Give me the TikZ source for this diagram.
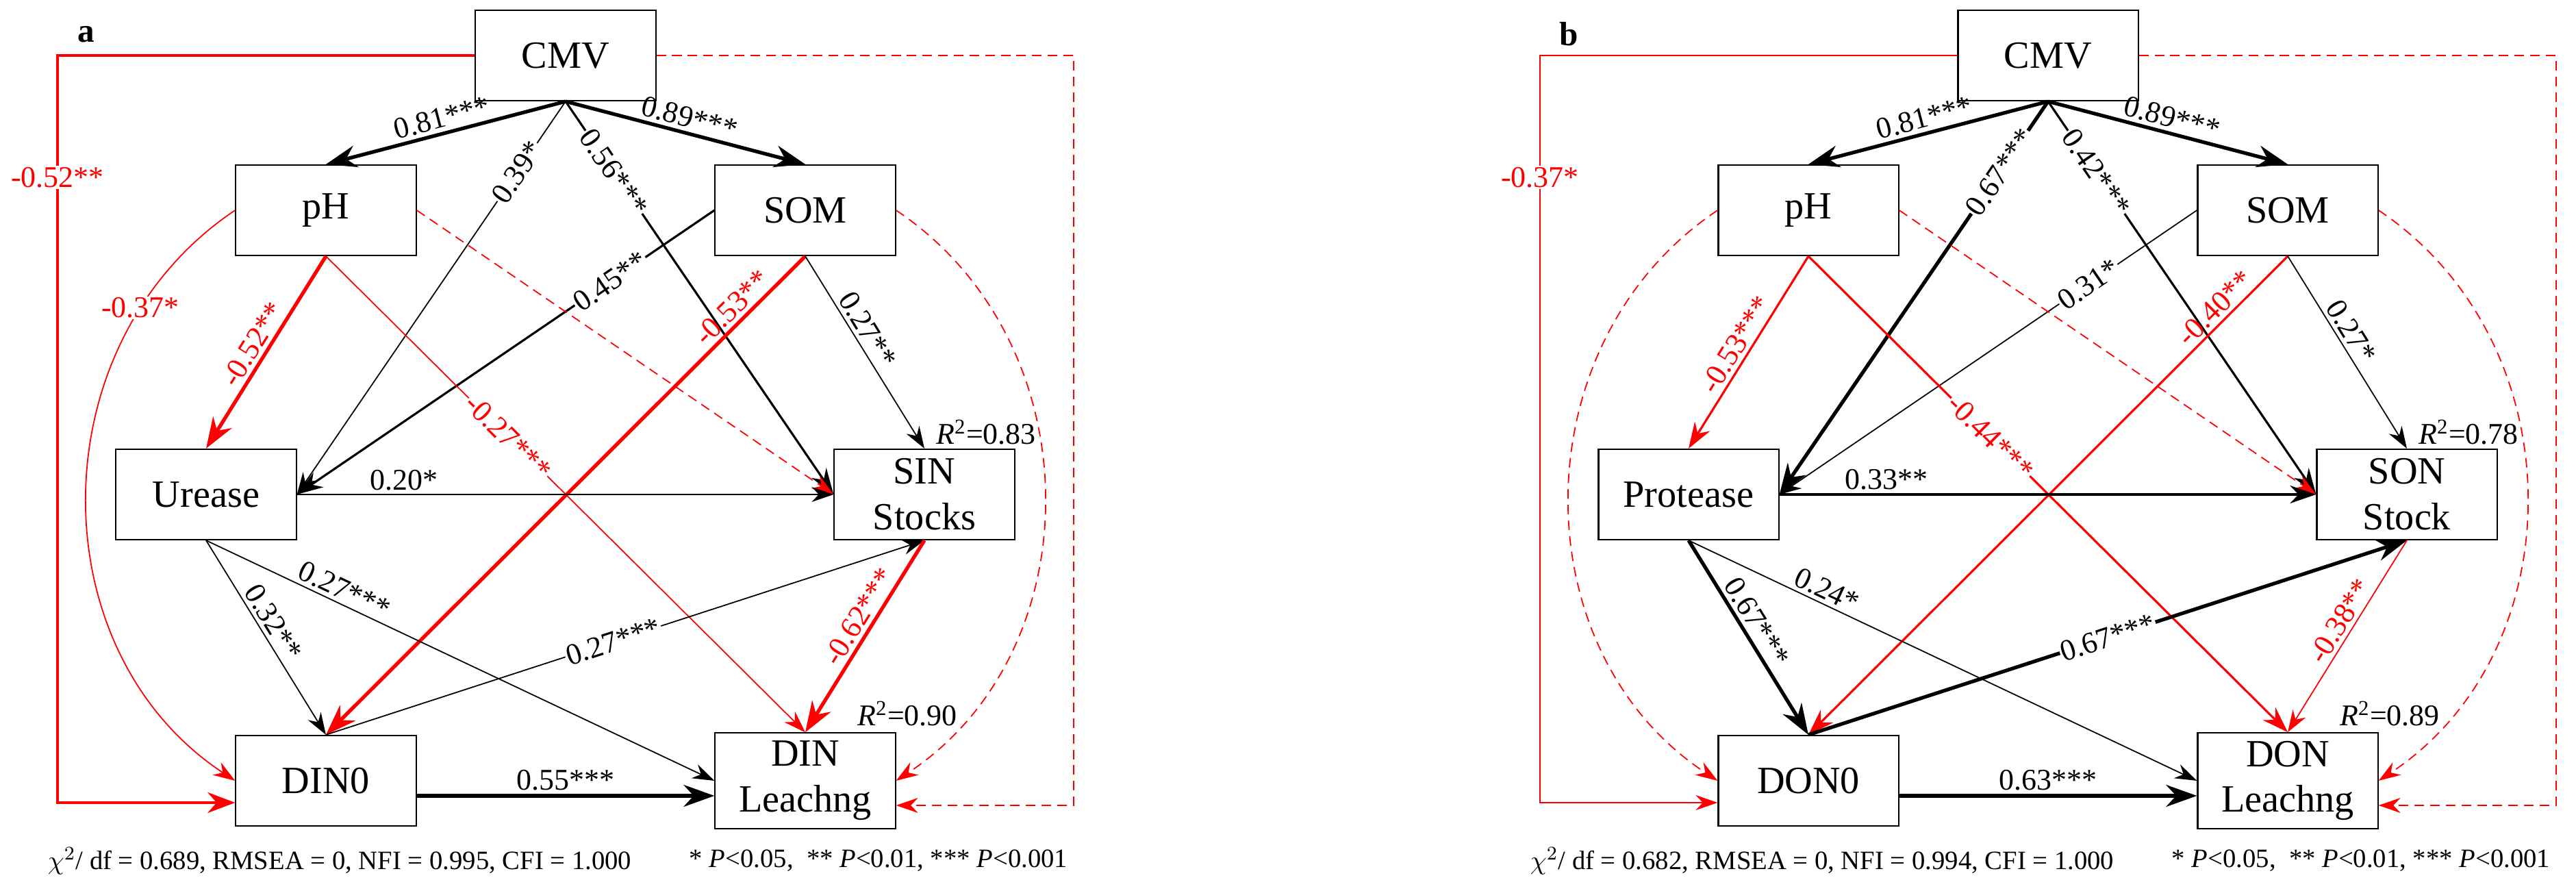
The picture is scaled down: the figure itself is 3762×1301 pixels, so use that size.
\documentclass[tikz,border=0pt]{standalone}
\usepackage{fontspec}
\setmainfont{Liberation Serif}
\usetikzlibrary{calc}
\usetikzlibrary{arrows.meta}

\tikzset{
    box/.style={draw, line width=0.6pt, minimum width=2.63cm, minimum height=1.32cm, font=\fontsize{16}{19}\selectfont, align=center},
    lab/.style={font=\fontsize{12.5}{14}\selectfont, sloped, inner sep=1.5pt},
    onl/.style={lab, fill=white, inner sep=0.5pt},
    thk/.style={line width=1.5pt, -{Stealth[length=4.5mm, width=3.2mm]}},
    med/.style={line width=0.9pt, -{Stealth[length=3.8mm, width=2.6mm]}},
    thn/.style={line width=0.5pt, -{Stealth[length=3.2mm, width=2.2mm]}},
    rd/.style={red},
    dsh/.style={red, dashed, dash pattern=on 4pt off 2.5pt},
    rsq/.style={font=\fontsize{12.5}{14}\selectfont},
    foot/.style={font=\fontsize{11}{13}\selectfont},
}

\begin{document}
\begin{tikzpicture}[x=0.01cm, y=-0.01cm]
    \useasboundingbox (0,0) rectangle (3762,1301);

    % panel a
    \node[font=\bfseries\fontsize{14}{16}\selectfont] (alab) at (126,50) {a};
    \node[box] (aCMV) at (826,81) {CMV};
    \node[box] (apH) at (476,307) {pH};
    \node[box] (aSOM) at (1176,307) {SOM};
    \node[box] (aUre) at (301,722) {Urease};
    \node[box] (aSIN) at (1350,722) {SIN\\Stocks};
    \node[box] (aDIN) at (476,1140) {DIN0};
    \node[box] (aDINL) at (1176,1140) {DIN\\Leachng};
    \coordinate (aL) at (84,600);
    \coordinate (aR) at (1568,600);

    \draw[thk] (aCMV.south) -- (apH.north) node[lab, midway, above] {0.81***};
    \draw[thk] (aCMV.south) -- (aSOM.north) node[lab, midway, above] {0.89***};
    \draw[thn] (aCMV.south) -- (aUre.east) node[onl, pos=.18] {0.39*};
    \draw[med] (aCMV.south) -- (aSIN.west) node[onl, pos=.18] {0.56***};
    \draw[med] (aSOM.west) -- (aUre.east) node[onl, pos=.25] {0.45**};
    \draw[dsh, thn] (apH.east) -- (aSIN.west);
    \draw[rd, thk] (apH.south) -- (aUre.north) node[lab, midway, above] {-0.52**};
    \draw[rd, thn] (apH.south) -- (aDINL.north) node[onl, pos=.38] {-0.27***};
    \draw[rd, thk] (aSOM.south) -- (aDIN.north) node[lab, pos=.13, above] {-0.53**};
    \draw[thn] (aSOM.south) -- (aSIN.north) node[lab, pos=.42, above] {0.27**};
    \draw[thn] (aUre.east) -- (aSIN.west) node[lab, pos=.2, above] {0.20*};
    \draw[thn] (aUre.south) -- (aDINL.west) node[lab, pos=.26, above] {0.27***};
    \draw[thn] (aUre.south) -- (aDIN.north) node[lab, pos=.46, above] {0.32**};
    \draw[thn] (aDIN.north) -- (aSIN.south) node[onl, pos=.48] {0.27***};
    \draw[rd, thk] (aSIN.south) -- (aDINL.north) node[lab, pos=.44, above] {-0.62***};
    \draw[thk] ($(aDIN.east)+(0,22)$) -- ($(aDINL.west)+(0,22)$) node[lab, midway, above] {0.55***};
    \draw[rd, thn] (apH.west) .. controls (55,500) and (55,950) .. (aDIN.west) node[onl, pos=.2, sloped=false] {-0.37*};
    \draw[dsh, thn] (aSOM.east) .. controls (1597,500) and (1597,950) .. (aDINL.east);
    \draw[rd, line width=1.3pt, -{Stealth[length=4mm, width=3mm]}] (aCMV.west) -| (aL) |- ($(aDIN.west)+(0,32)$);
    \node[rd, onl, sloped=false] (aLlab) at (84,259) {-0.52**};
    \draw[dsh, thn] (aCMV.east) -| (aR) |- ($(aDINL.east)+(0,36)$);
    \node[rsq] (aR1) at (1440,631) {\textit{R}\textsuperscript{2}=0.83};
    \node[rsq] (aR2) at (1325,1042) {\textit{R}\textsuperscript{2}=0.90};
    \node[foot] (aft1) at (496,1257) {$\chi^2$/ df = 0.689, RMSEA = 0, NFI = 0.995, CFI = 1.000};
    \node[foot] (aft2) at (1283,1257) {* \textit{P}<0.05,\ \ ** \textit{P}<0.01, *** \textit{P}<0.001};

    % panel b
    \begin{scope}[shift={(2165,0)}]
    \node[font=\bfseries\fontsize{14}{16}\selectfont] (blab) at (126,50) {b};
    \node[box] (bCMV) at (826,81) {CMV};
    \node[box] (bpH) at (476,307) {pH};
    \node[box] (bSOM) at (1176,307) {SOM};
    \node[box] (bPro) at (301,722) {Protease};
    \node[box] (bSON) at (1350,722) {SON\\Stock};
    \node[box] (bDON) at (476,1140) {DON0};
    \node[box] (bDONL) at (1176,1140) {DON\\Leachng};
    \coordinate (bL) at (84,600);
    \coordinate (bR) at (1568,600);

    \draw[thk] (bCMV.south) -- (bpH.north) node[lab, midway, above] {0.81***};
    \draw[thk] (bCMV.south) -- (bSOM.north) node[lab, midway, above] {0.89***};
    \draw[thk] (bCMV.south) -- (bPro.east) node[onl, pos=.18] {0.67***};
    \draw[med] (bCMV.south) -- (bSON.west) node[onl, pos=.18] {0.42***};
    \draw[thn] (bSOM.west) -- (bPro.east) node[onl, pos=.26] {0.31*};
    \draw[dsh, thn] (bpH.east) -- (bSON.west);
    \draw[rd, med] (bpH.south) -- (bPro.north) node[lab, midway, above] {-0.53***};
    \draw[rd, med] (bpH.south) -- (bDONL.north) node[onl, pos=.38] {-0.44***};
    \draw[rd, med] (bSOM.south) -- (bDON.north) node[lab, pos=.13, above] {-0.40**};
    \draw[thn] (bSOM.south) -- (bSON.north) node[lab, pos=.43, above] {0.27*};
    \draw[med] (bPro.east) -- (bSON.west) node[lab, pos=.2, above] {0.33**};
    \draw[thn] (bPro.south) -- (bDONL.west) node[lab, pos=.26, above] {0.24*};
    \draw[thk] (bPro.south) -- (bDON.north) node[lab, pos=.46, above] {0.67***};
    \draw[thk] (bDON.north) -- (bSON.south) node[onl, pos=.5] {0.67***};
    \draw[rd, thn] (bSON.south) -- (bDONL.north) node[lab, pos=.46, above] {-0.38**};
    \draw[thk] ($(bDON.east)+(0,22)$) -- ($(bDONL.west)+(0,22)$) node[lab, midway, above] {0.63***};
    \draw[dsh, thn] (bpH.west) .. controls (55,500) and (55,950) .. (bDON.west);
    \draw[dsh, thn] (bSOM.east) .. controls (1597,500) and (1597,950) .. (bDONL.east);
    \draw[rd, thn] (bCMV.west) -| (bL) |- ($(bDON.west)+(0,32)$);
    \node[rd, onl, sloped=false] (bLlab) at (84,259) {-0.37*};
    \draw[dsh, thn] (bCMV.east) -| (bR) |- ($(bDONL.east)+(0,36)$);
    \node[rsq] (bR1) at (1440,631) {\textit{R}\textsuperscript{2}=0.78};
    \node[rsq] (bR2) at (1325,1042) {\textit{R}\textsuperscript{2}=0.89};
    \node[foot] (bft1) at (496,1257) {$\chi^2$/ df = 0.682, RMSEA = 0, NFI = 0.994, CFI = 1.000};
    \node[foot] (bft2) at (1283,1257) {* \textit{P}<0.05,\ \ ** \textit{P}<0.01, *** \textit{P}<0.001};
    \end{scope}
\end{tikzpicture}
\end{document}
